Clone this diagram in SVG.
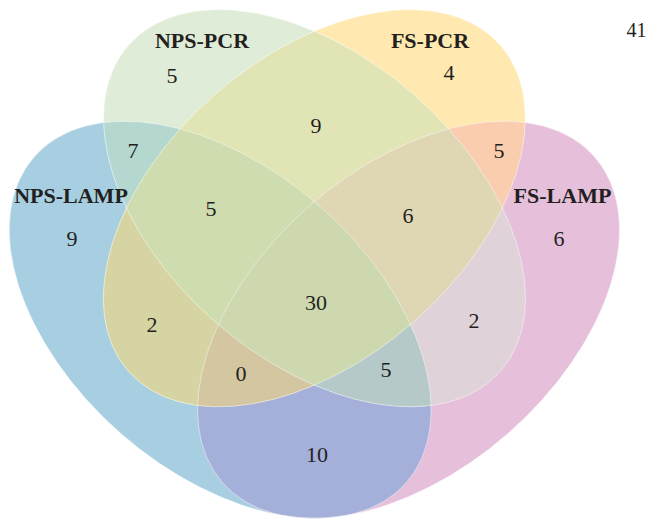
<svg xmlns="http://www.w3.org/2000/svg" xmlns:xlink="http://www.w3.org/1999/xlink" width="649" height="519" viewBox="0 0 649 519">
<style>
.lbl{font-family:"Liberation Serif","Times New Roman",serif;font-weight:bold;font-size:22px;fill:#231f20;text-anchor:middle}
.num{font-family:"Liberation Serif","Times New Roman",serif;font-size:22px;fill:#231f20;text-anchor:middle}
.edge{fill:none;stroke:#ffffff;stroke-opacity:0.55;stroke-width:0.8}
</style>
<defs>
<ellipse id="eB" cx="0" cy="0" rx="247.3" ry="151" transform="translate(220.2,319.8) rotate(41.2)"/>
<ellipse id="eG" cx="0" cy="0" rx="247.3" ry="151" transform="translate(314.5,208.2) rotate(41.2)"/>
<ellipse id="eY" cx="0" cy="0" rx="247.3" ry="151" transform="translate(314.3,208.2) rotate(-41.2)"/>
<ellipse id="eP" cx="0" cy="0" rx="247.3" ry="151" transform="translate(408.6,319.8) rotate(-41.2)"/>
<clipPath id="cB"><use xlink:href="#eB"/></clipPath>
<clipPath id="cG"><use xlink:href="#eG"/></clipPath>
<clipPath id="cY"><use xlink:href="#eY"/></clipPath>
<clipPath id="cP"><use xlink:href="#eP"/></clipPath>
</defs>
<rect width="649" height="519" fill="#ffffff"/>
<g id="node-nps-lamp"><use xlink:href="#eB" fill="#a7cfe1"/></g>
<g id="node-nps-pcr"><use xlink:href="#eG" fill="#dfedd8"/></g>
<g id="node-fs-pcr"><use xlink:href="#eY" fill="#ffe9b1"/></g>
<g id="node-fs-lamp"><use xlink:href="#eP" fill="#e6bfdb"/></g>
<g id="overlaps">
<g clip-path="url(#cB)"><use xlink:href="#eG" fill="#b4d8d0"/></g>
<g clip-path="url(#cG)"><use xlink:href="#eY" fill="#e1e5b5"/></g>
<g clip-path="url(#cY)"><use xlink:href="#eP" fill="#f9cdae"/></g>
<g clip-path="url(#cB)"><use xlink:href="#eP" fill="#a4b0d9"/></g>
<g clip-path="url(#cB)"><use xlink:href="#eY" fill="#d6d4a3"/></g>
<g clip-path="url(#cG)"><use xlink:href="#eP" fill="#dfd2d9"/></g>
<g clip-path="url(#cB)"><g clip-path="url(#cG)"><use xlink:href="#eY" fill="#cfdcaf"/></g></g>
<g clip-path="url(#cG)"><g clip-path="url(#cY)"><use xlink:href="#eP" fill="#dfd7b3"/></g></g>
<g clip-path="url(#cB)"><g clip-path="url(#cY)"><use xlink:href="#eP" fill="#d4c6a1"/></g></g>
<g clip-path="url(#cB)"><g clip-path="url(#cG)"><use xlink:href="#eP" fill="#b5c9c8"/></g></g>
<g clip-path="url(#cB)"><g clip-path="url(#cG)"><g clip-path="url(#cY)"><use xlink:href="#eP" fill="#ced8ae"/></g></g></g>
</g>
<g id="outlines">
<use xlink:href="#eB" class="edge"/>
<use xlink:href="#eG" class="edge"/>
<use xlink:href="#eY" class="edge"/>
<use xlink:href="#eP" class="edge"/>
</g>
<g id="labels">
<text class="lbl" x="202" y="48">NPS-PCR</text>
<text class="lbl" x="430" y="48">FS-PCR</text>
<text class="lbl" x="71" y="203">NPS-LAMP</text>
<text class="lbl" x="562.5" y="203">FS-LAMP</text>
</g>
<g id="counts">
<text class="num" x="172" y="83">5</text>
<text class="num" x="449" y="80">4</text>
<text class="num" x="72" y="246">9</text>
<text class="num" x="559" y="246">6</text>
<text class="num" x="133" y="158">7</text>
<text class="num" x="316" y="133">9</text>
<text class="num" x="499" y="158">5</text>
<text class="num" x="211" y="216">5</text>
<text class="num" x="408" y="223">6</text>
<text class="num" x="316" y="310">30</text>
<text class="num" x="152" y="332">2</text>
<text class="num" x="474" y="328">2</text>
<text class="num" x="241" y="381">0</text>
<text class="num" x="386" y="377">5</text>
<text class="num" x="317" y="462">10</text>
<text class="num" x="636.5" y="37" style="font-size:20px">41</text>
</g>
</svg>
